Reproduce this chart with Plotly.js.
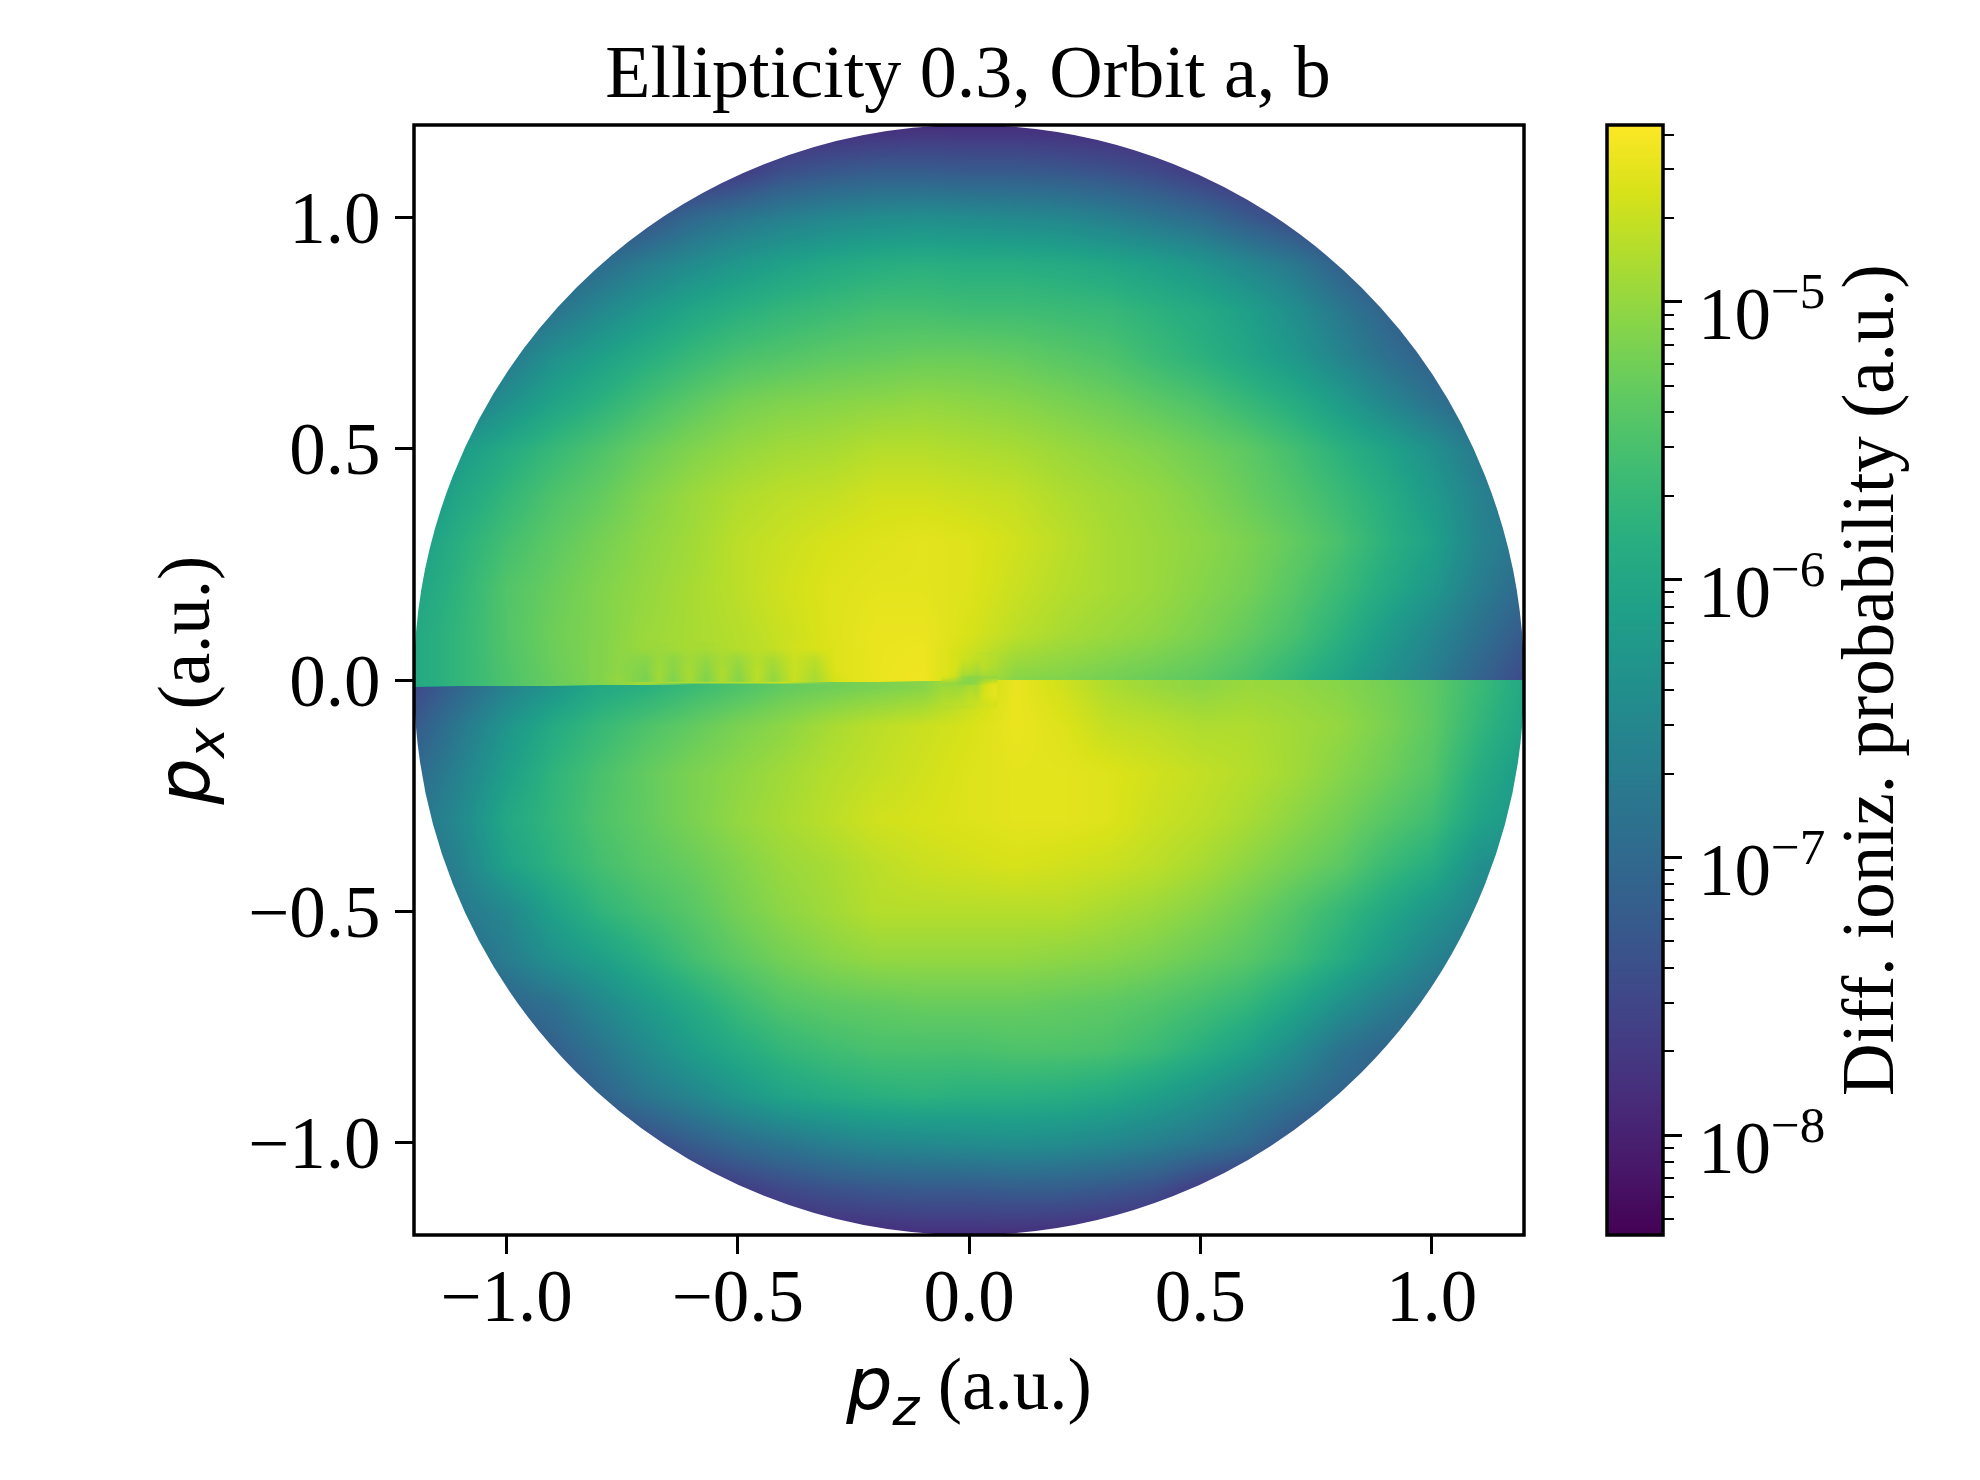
<!DOCTYPE html>
<html>
<head>
<meta charset="utf-8">
<script src="https://cdn.plot.ly/plotly-3.0.1.min.js"></script>
<style>body { margin: 0; background: white; }</style>
</head>
<body>
<div id="graph"></div>
<script>
// colour range of the chart, log10 of the probability
var logMin = -8.36;
var logMax = -4.363;

// p_z columns and p_x rows of the table below
var pz = [-1.2, -1.1, -1.0, -0.9, -0.8, -0.7, -0.6, -0.5, -0.4, -0.3, -0.2, -0.1, 0, 0.1, 0.2, 0.3, 0.4, 0.5, 0.6, 0.7, 0.8, 0.9, 1.0, 1.1, 1.2];
var pxUpper = [1.2, 1.1, 1.0, 0.9, 0.8, 0.7, 0.6, 0.5, 0.4, 0.3, 0.2, 0.1];
var pxLower = [-0.1, -0.2, -0.3, -0.4, -0.5, -0.6, -0.7, -0.8, -0.9, -1.0, -1.1, -1.2];

var upperRows = [
    [10, 10, 10, 10, 10, 10, 10, 10, 10, 11, 12, 13, 13, 13, 12, 11, 10, 10, 10, 10, 10, 10, 10, 10, 10],
    [12, 12, 12, 12, 12, 12, 13, 17, 24, 27, 29, 29, 28, 28, 27, 25, 22, 17, 13, 12, 12, 12, 12, 12, 12],
    [18, 18, 18, 18, 18, 25, 34, 39, 43, 46, 48, 49, 48, 47, 46, 43, 39, 35, 28, 22, 16, 14, 14, 14, 14],
    [24, 24, 24, 30, 35, 42, 48, 53, 57, 60, 62, 63, 62, 62, 61, 59, 56, 52, 46, 40, 31, 22, 18, 18, 18],
    [30, 30, 32, 38, 46, 53, 59, 63, 66, 68, 70, 70, 69, 69, 68, 67, 64, 61, 56, 49, 40, 32, 24, 24, 24],
    [34, 34, 40, 50, 56, 62, 67, 71, 73, 75, 76, 77, 77, 76, 74, 72, 68, 64, 59, 53, 45, 37, 30, 28, 26],
    [34, 40, 50, 58, 64, 70, 75, 79, 81, 82, 83, 84, 83, 82, 80, 78, 75, 72, 67, 62, 55, 46, 38, 32, 30],
    [42, 54, 61, 67, 72, 77, 81, 84, 86, 87, 89, 89, 88, 87, 85, 83, 81, 78, 75, 70, 64, 58, 50, 40, 33],
    [50, 59, 66, 72, 76, 81, 85, 88, 90, 91, 93, 93, 92, 91, 88, 86, 84, 81, 77, 73, 68, 62, 54, 44, 36],
    [55, 63, 70, 75, 79, 83, 86, 90, 92, 94, 95, 96, 95, 93, 90, 87, 85, 83, 80, 76, 71, 64, 57, 45, 38],
    [58, 65, 73, 77, 81, 84, 87, 90, 93, 95, 96, 96, 95, 92, 89, 87, 85, 82, 79, 74, 68, 61, 53, 42, 34],
    [60, 66, 73, 78, 81, 85, 87, 89, 92, 95, 97, 97, 94, 90, 87, 85, 83, 80, 76, 71, 64, 55, 46, 37, 28]
];
// the two sides of the jump along p_x = 0
var edgeAbove = [60, 66, 72, 77, 81, 86, 88, 89, 92, 94, 97, 98, 90, 82, 81, 79, 77, 75, 71, 65, 58, 50, 42, 32, 22];
var edgeBelow = [22, 33, 44, 52, 60, 63, 68, 72, 76, 78, 80, 82, 90, 97, 93, 88, 85, 83, 85, 84, 82, 79, 75, 68, 60];
var lowerRows = [
    [28, 40, 52, 61, 67, 72, 76, 80, 83, 87, 90, 92, 94, 97, 95, 91, 90, 88, 88, 86, 84, 80, 75, 66, 58],
    [34, 44, 56, 65, 71, 76, 80, 83, 86, 89, 91, 93, 95, 96, 96, 95, 93, 91, 89, 86, 82, 78, 73, 62, 54],
    [38, 47, 60, 66, 72, 76, 80, 84, 87, 90, 93, 94, 95, 96, 96, 95, 92, 90, 87, 83, 79, 74, 69, 58, 52],
    [36, 44, 57, 64, 70, 74, 77, 81, 85, 87, 90, 92, 93, 94, 93, 92, 90, 87, 83, 79, 75, 68, 62, 50, 46],
    [33, 40, 46, 57, 65, 70, 74, 79, 83, 86, 89, 89, 89, 89, 89, 87, 85, 82, 78, 73, 67, 60, 52, 44, 38],
    [30, 34, 42, 50, 56, 63, 70, 75, 79, 82, 84, 84, 84, 84, 83, 82, 80, 77, 74, 69, 62, 53, 44, 38, 34],
    [26, 28, 32, 37, 46, 54, 61, 68, 73, 75, 76, 77, 77, 77, 76, 75, 73, 70, 66, 59, 50, 42, 36, 34, 34],
    [24, 24, 24, 30, 38, 47, 55, 61, 66, 69, 71, 71, 71, 72, 72, 71, 68, 63, 57, 48, 38, 32, 30, 30, 30],
    [18, 18, 18, 22, 31, 39, 45, 52, 58, 61, 63, 64, 63, 63, 62, 60, 56, 51, 44, 38, 32, 28, 24, 24, 24],
    [14, 14, 14, 14, 16, 22, 29, 35, 39, 43, 46, 47, 48, 49, 48, 46, 43, 39, 34, 25, 18, 18, 18, 18, 18],
    [12, 12, 12, 12, 12, 12, 13, 17, 22, 25, 27, 28, 28, 29, 29, 27, 24, 17, 13, 12, 12, 12, 12, 12, 12],
    [10, 10, 10, 10, 10, 10, 10, 10, 10, 11, 12, 13, 13, 13, 12, 11, 10, 10, 10, 10, 10, 10, 10, 10, 10]
];
// the jump runs slightly downhill to the left: [p_x, p_z up to which the upper side reaches]
var edgeTilt = [[0.001, 0], [-0.002, -0.15], [-0.005, -0.4], [-0.008, -0.65], [-0.011, -0.9], [-0.014, -1.15]];

// fringes just above the jump on the left
var rippleX = [-0.80, -0.76, -0.70, -0.67, -0.64, -0.605, -0.57, -0.535, -0.50, -0.46, -0.424, -0.38, -0.333, -0.29, -0.25];
var rippleY = [0.004, 0.02, 0.045, 0.07];
var rippleRows = [
    [81, 84, 80, 86, 81, 87, 81, 88, 82, 90, 84, 92, 87, 94, 96],
    [81, 83, 81, 86, 82, 87, 82, 88, 83, 90, 85, 92, 88, 95, 96],
    [81, 83, 82, 85, 83, 86, 84, 87, 85, 89, 87, 92, 90, 95, 96],
    [81, 83, 85, 85, 86, 87, 87, 88, 89, 90, 91, 93, 94, 95, 96]
];

// star around the origin
var starX = [-0.05, -0.03, -0.015, 0, 0.015, 0.03, 0.05];
var starY = [-0.05, -0.03, -0.012, -0.006, 0.006, 0.012, 0.03, 0.05];
var starRows = [
    [89, 90, 90, 91, 92, 93, 94],
    [87, 87, 88, 90, 89, 94, 96],
    [85, 85, 85, 87, 87, 93, 96],
    [84, 84, 82, 82, 84, 90, 95],
    [94, 90, 84, 82, 82, 84, 84],
    [95, 93, 87, 87, 85, 87, 86],
    [95, 94, 90, 90, 88, 90, 88],
    [95, 94, 93, 92, 91, 90, 89]
];

// colour bar
var barProb = [4e-9, 1e-8, 1e-7, 1e-6, 1e-5, 5e-5];
var barExponents = [-8, -7, -6, -5];

var fontSize = 73;
var serif = "Liberation Serif";
var sansItalic = "font-family:'DejaVu Sans';font-style:italic";

function toLog(row) {
    return row.map(function (v) { return logMin + v / 100 * (logMax - logMin); });
}

function buildTable() {
    var y = [], z = [];
    upperRows.forEach(function (row, i) { y.push(pxUpper[i]); z.push(toLog(row)); });
    y.push(0.003); z.push(toLog(edgeAbove));
    edgeTilt.forEach(function (step) {
        y.push(step[0]);
        z.push(toLog(pz.map(function (x, i) { return x <= step[1] ? edgeAbove[i] : edgeBelow[i]; })));
    });
    y.push(-0.016); z.push(toLog(edgeBelow));
    lowerRows.forEach(function (row, i) { y.push(pxLower[i]); z.push(toLog(row)); });
    // ascending for plotly
    return { y: y.reverse(), z: z.reverse() };
}

function field(x, y, z) {
    return {
        type: 'heatmap', x: x, y: y, z: z,
        colorscale: 'Viridis', zmin: logMin, zmax: logMax,
        zsmooth: 'best', showscale: false, hoverinfo: 'skip'
    };
}

function drawGraph() {
    var table = buildTable();
    var trace = field(pz, table.y, table.z);
    var ripple = field(rippleX, rippleY, rippleRows.map(toLog));
    var star = field(starX, starY, starRows.map(toLog));

    var bar = field([0, 1], barProb, barProb.map(function (p) { return [Math.log10(p), Math.log10(p)]; }));
    bar.xaxis = 'x2';
    bar.yaxis = 'y2';

    var lineStyle = { showline: false, zeroline: false, showgrid: false };
    var tickStyle = { ticks: 'outside', ticklen: 18, tickwidth: 3, tickcolor: 'black', tickfont: { family: serif, size: fontSize, color: 'black' } };
    var titleFont = { family: serif, size: fontSize, color: 'black' };
    var frame = { color: 'black', width: 3.5 };

    var layout = {
        width: 1980, height: 1480,
        paper_bgcolor: 'white', plot_bgcolor: 'white',
        margin: { l: 414, r: 317, t: 125, b: 245, pad: 0 },
        showlegend: false,
        font: { family: serif, size: fontSize, color: 'black' },
        title: { text: 'Ellipticity 0.3, Orbit a, b', x: 968 / 1980, xanchor: 'center', y: 1 - 71 / 1480, yanchor: 'middle', font: { family: serif, size: 74, color: 'black' } },
        xaxis: Object.assign({}, lineStyle, tickStyle, {
            domain: [0, 1110 / 1249], range: [-1.2, 1.2], tick0: 0, dtick: 0.5, tickformat: '.1f', ticklabelstandoff: -21,
            title: { text: '<span style="' + sansItalic + '">p<sub>z</sub></span> (a.u.)', standoff: 22, font: titleFont }
        }),
        yaxis: Object.assign({}, lineStyle, tickStyle, {
            domain: [0, 1], range: [-1.2, 1.2], tick0: 0, dtick: 0.5, tickformat: '.1f',
            title: { text: '<span style="' + sansItalic + '">p<sub>x</sub></span> (a.u.)', standoff: 14, font: titleFont }
        }),
        xaxis2: Object.assign({}, lineStyle, { domain: [1193 / 1249, 1], range: [0, 1], anchor: 'y2', showticklabels: false, ticks: '' }),
        yaxis2: Object.assign({}, lineStyle, tickStyle, {
            domain: [0, 1], anchor: 'x2', side: 'right', type: 'log', range: [logMin, logMax],
            dtick: 1, showticklabels: false,
            minor: { ticks: 'outside', ticklen: 10, tickwidth: 2, tickcolor: 'black', dtick: 'D1', showgrid: false },
            title: { text: 'Diff. ioniz. probability (a.u.)', standoff: 160, font: titleFont }
        }),
        // matplotlib sets the exponent high, so the colour bar labels sit below their ticks
        annotations: barExponents.map(function (e) {
            return {
                xref: 'x2', yref: 'y2', x: 1, y: e, xanchor: 'left', yanchor: 'middle', xshift: 33, yshift: -7,
                text: '10<sup>\u2212' + Math.abs(e) + '</sup>', showarrow: false, font: titleFont
            };
        }),
        shapes: [
            // white outside the circle of radius 1.2
            { type: 'circle', xref: 'x', yref: 'y', x0: -1.4595, x1: 1.4595, y0: -1.4595, y1: 1.4595, line: { color: 'white', width: 240 }, fillcolor: 'rgba(0,0,0,0)' },
            { type: 'rect', xref: 'x domain', yref: 'y domain', x0: 0, x1: 1, y0: 0, y1: 1, line: frame, fillcolor: 'rgba(0,0,0,0)' },
            { type: 'rect', xref: 'x2 domain', yref: 'y2 domain', x0: 0, x1: 1, y0: 0, y1: 1, line: frame, fillcolor: 'rgba(0,0,0,0)' }
        ]
    };

    Plotly.newPlot('graph', [trace, ripple, star, bar], layout, { displayModeBar: false, staticPlot: true });
}

drawGraph();
</script>
</body>
</html>
